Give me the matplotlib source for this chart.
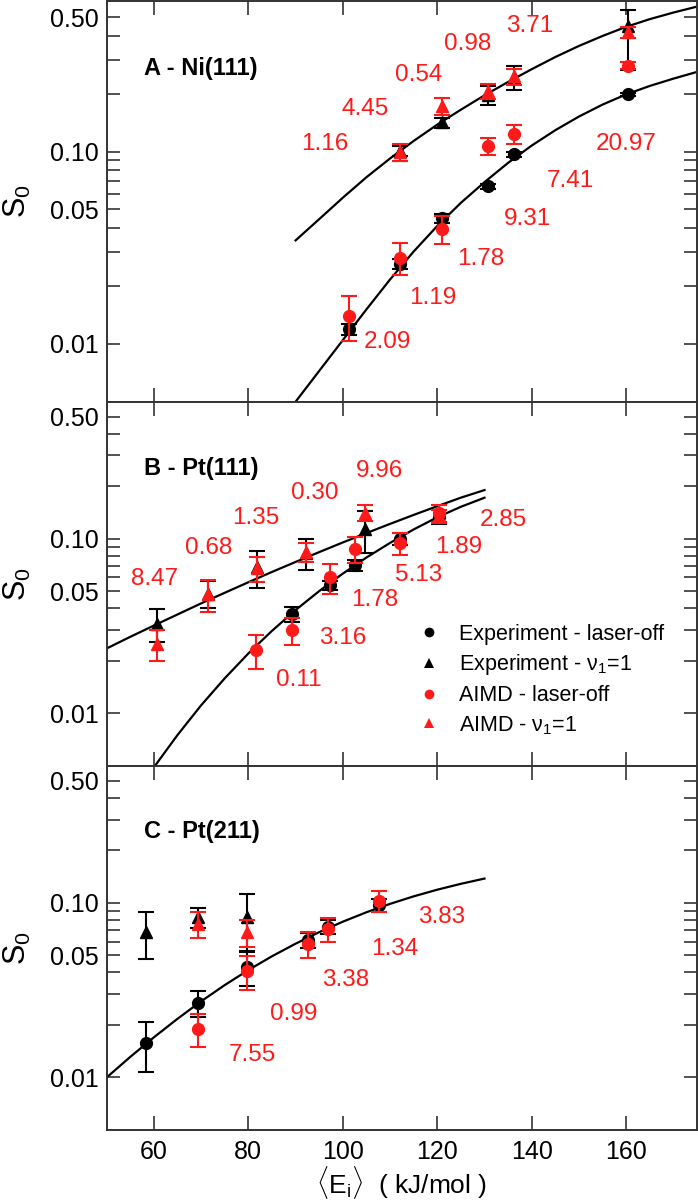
import matplotlib
matplotlib.use('Agg')
import matplotlib.pyplot as plt
from matplotlib.lines import Line2D
from matplotlib.ticker import FixedLocator, FixedFormatter, NullFormatter

plt.rcParams['font.family'] = ['Liberation Sans', 'DejaVu Sans']
plt.rcParams['mathtext.fontset'] = 'custom'
plt.rcParams['mathtext.rm'] = 'Liberation Sans'
plt.rcParams['mathtext.it'] = 'Liberation Sans:italic'
plt.rcParams['mathtext.bf'] = 'Liberation Sans:bold'

# ---------------- Panel A : Ni(111) ----------------
a_exp_off_x = [101.3, 112.1, 121.1, 130.7, 136.3, 160.3]
a_exp_off_y = [0.0119, 0.026, 0.045, 0.066, 0.097, 0.198]
a_exp_off_e = [0.0008, 0.0015, 0.0025, 0.002, 0.003, 0.004]

a_exp_v1_x = [112.1, 121.1, 130.7, 136.3, 160.3]
a_exp_v1_y = [0.101, 0.142, 0.196, 0.245, 0.45]
a_exp_v1_lo = [0.0065, 0.009, 0.022, 0.035, 0.186]
a_exp_v1_hi = [0.0055, 0.008, 0.024, 0.035, 0.096]

a_aimd_off_x = [101.3, 112.1, 121.1, 130.7, 136.3, 160.3]
a_aimd_off_y = [0.014, 0.028, 0.0396, 0.107, 0.124, 0.28]
a_aimd_off_e = [0.0037, 0.0053, 0.0064, 0.011, 0.014, 0.012]

a_aimd_v1_x = [112.1, 121.1, 130.7, 136.3, 160.3]
a_aimd_v1_y = [0.099, 0.172, 0.206, 0.246, 0.418]
a_aimd_v1_e = [0.010, 0.017, 0.018, 0.023, 0.027]

a_fit_up_x = [90, 95, 100, 105, 110, 115, 120, 125, 130, 135, 140, 145, 150, 155, 160, 165, 170, 175]
a_fit_up_y = [0.0345, 0.0445, 0.0575, 0.0735, 0.092, 0.1135, 0.138, 0.165, 0.196, 0.230, 0.268,
              0.310, 0.354, 0.399, 0.445, 0.488, 0.528, 0.567]
a_fit_lo_x = [90, 95, 100, 105, 110, 115, 120, 125, 130, 135, 140, 145, 150, 155, 160, 165, 170, 175]
a_fit_lo_y = [0.0050, 0.00723, 0.01045, 0.0151, 0.0216, 0.0302, 0.0410, 0.0541, 0.0693, 0.0873,
              0.1074, 0.1291, 0.152, 0.1754, 0.1982, 0.2193, 0.2393, 0.2594]

a_lab_txt = ['1.16', '4.45', '0.54', '0.98', '3.71', '20.97', '7.41', '9.31', '1.78', '1.19', '2.09']
a_lab_x = [96.2, 104.8, 116.1, 126.5, 139.6, 159.9, 148.1, 139.2, 129.3, 119.0, 109.5]
a_lab_y = [0.110, 0.167, 0.249, 0.363, 0.452, 0.110, 0.0706, 0.0446, 0.0276, 0.0174, 0.0102]

# ---------------- Panel B : Pt(111) ----------------
b_exp_off_x = [89.3, 97.3, 102.5, 112.1, 120.4]
b_exp_off_y = [0.0369, 0.054, 0.0707, 0.100, 0.134]
b_exp_off_e = [0.0037, 0.003, 0.005, 0.008, 0.012]

b_exp_v1_x = [60.7, 71.5, 81.8, 92.2, 104.7]
b_exp_v1_y = [0.0326, 0.0485, 0.069, 0.0825, 0.114]
b_exp_v1_e = [0.007, 0.0085, 0.0165, 0.0165, 0.031]

b_aimd_off_x = [81.6, 89.3, 97.3, 102.5, 112.1, 120.4]
b_aimd_off_y = [0.0229, 0.0299, 0.060, 0.087, 0.094, 0.140]
b_aimd_off_e = [0.005, 0.0054, 0.0115, 0.0147, 0.0133, 0.0155]

b_aimd_v1_x = [60.7, 71.5, 81.8, 92.2, 104.7, 120.4]
b_aimd_v1_y = [0.025, 0.0481, 0.0676, 0.0842, 0.141, 0.135]
b_aimd_v1_e = [0.0051, 0.0102, 0.0109, 0.0105, 0.0145, 0.012]

b_fit_up_x = [50, 55, 60, 65, 70, 75, 80, 85, 90, 95, 100, 105, 110, 115, 120, 125, 130]
b_fit_up_y = [0.0235, 0.0274, 0.0318, 0.0368, 0.0426, 0.0490, 0.0563, 0.0645, 0.0736, 0.0838,
              0.0952, 0.1077, 0.1216, 0.1369, 0.1536, 0.1719, 0.1900]
b_fit_lo_x = [60, 65, 70, 75, 80, 85, 90, 95, 100, 105, 110, 115, 120, 125, 130]
b_fit_lo_y = [0.0049, 0.0075, 0.0111, 0.01585, 0.0220, 0.02965, 0.0390, 0.0501, 0.0631, 0.0780,
              0.0946, 0.1130, 0.1327, 0.1524, 0.1718]

b_lab_txt = ['8.47', '0.68', '1.35', '0.30', '9.96', '2.85', '1.89', '5.13', '1.78', '3.16', '0.11']
b_lab_x = [60.2, 71.5, 81.6, 94.1, 107.7, 134.0, 124.6, 116.0, 106.7, 100.0, 90.6]
b_lab_y = [0.0584, 0.088, 0.131, 0.182, 0.243, 0.128, 0.090, 0.062, 0.0444, 0.0268, 0.0154]

# ---------------- Panel C : Pt(211) ----------------
c_exp_off_x = [58.3, 69.4, 79.8, 92.6, 96.8, 107.7]
c_exp_off_y = [0.0158, 0.0268, 0.0429, 0.061, 0.073, 0.097]
c_exp_off_e = [0.005, 0.0045, 0.0095, 0.006, 0.007, 0.008]

c_exp_v1_x = [58.3, 69.4, 79.8]
c_exp_v1_y = [0.068, 0.083, 0.083]
c_exp_v1_e = [0.0205, 0.011, 0.030]

c_aimd_off_x = [69.4, 79.8, 92.6, 96.8, 107.7]
c_aimd_off_y = [0.019, 0.0405, 0.0584, 0.0707, 0.103]
c_aimd_off_e = [0.004, 0.009, 0.0098, 0.011, 0.014]

c_aimd_v1_x = [69.4, 79.8]
c_aimd_v1_y = [0.076, 0.068]
c_aimd_v1_e = [0.0128, 0.012]

c_fit_x = [50, 55, 60, 65, 70, 75, 80, 85, 90, 95, 100, 105, 110, 115, 120, 125, 130]
c_fit_y = [0.0100, 0.01312, 0.01698, 0.02168, 0.02729, 0.03381, 0.04121, 0.04943, 0.05834,
           0.06792, 0.07798, 0.08831, 0.09863, 0.1089, 0.1189, 0.1285, 0.1377]

c_lab_txt = ['3.83', '1.34', '3.38', '0.99', '7.55']
c_lab_x = [121.0, 110.9, 100.6, 89.5, 80.9]
c_lab_y = [0.0825, 0.0547, 0.0363, 0.0231, 0.0135]

panel_titles = ['A - Ni(111)', 'B - Pt(111)', 'C - Pt(211)']
title_x = [57.9, 57.9, 57.9]
title_y = [0.27, 0.254, 0.256]

legend_labels = ['Experiment - laser-off', r'Experiment - ν$_{\mathrm{1}}$=1',
                 'AIMD - laser-off', r'AIMD - ν$_{\mathrm{1}}$=1']

x_ticks = [60, 80, 100, 120, 140, 160]
y_major = [0.01, 0.05, 0.10, 0.50]
y_major_lab = ['0.01', '0.05', '0.10', '0.50']
y_minor = [0.02, 0.03, 0.04, 0.06, 0.07, 0.08, 0.09, 0.2, 0.3, 0.4]

RED = '#ff1a1a'
BLK = '#000000'

fig = plt.figure(figsize=(6.98, 12.03), dpi=100)
L, W = 106.7 / 698, 590.3 / 698
axA = fig.add_axes([L, 1 - 401.7 / 1203, W, 401.2 / 1203])
axB = fig.add_axes([L, 1 - 765.7 / 1203, W, 364.0 / 1203])
axC = fig.add_axes([L, 1 - 1130.0 / 1203, W, 364.3 / 1203])


def draw_series(ax, x, y, err, marker, color, ms):
    ax.errorbar(x, y, yerr=err, fmt=marker, color=color, ecolor=color, ms=ms,
                mec=color, capsize=5.5, elinewidth=1.5, capthick=1.5,
                zorder=4 if color == RED else 3)


def style_axis(ax, show_xlabels):
    ax.set_yscale('log')
    ax.set_xlim(50, 175)
    ax.set_ylim(0.005, 0.61)
    ax.xaxis.set_major_locator(FixedLocator(x_ticks))
    ax.yaxis.set_major_locator(FixedLocator(y_major))
    ax.yaxis.set_major_formatter(FixedFormatter(y_major_lab))
    ax.yaxis.set_minor_locator(FixedLocator(y_minor))
    ax.yaxis.set_minor_formatter(NullFormatter())
    ax.tick_params(axis='both', which='both', direction='in', top=True, right=True,
                   labelsize=18, width=1.2, color='#333333')
    ax.tick_params(axis='x', which='major', length=10, pad=7)
    ax.tick_params(axis='y', which='both', length=9.5, pad=6)
    if not show_xlabels:
        ax.tick_params(axis='x', labelbottom=False)
    for s in ax.spines.values():
        s.set_linewidth(1.4)
        s.set_color('#333333')
    ax.set_ylabel(r'S$_{\mathrm{0}}$', fontsize=22)
    ax.yaxis.set_label_coords(-0.125, 0.5)


# Panel A
axA.plot(a_fit_up_x, a_fit_up_y, color=BLK, lw=1.6, zorder=2)
axA.plot(a_fit_lo_x, a_fit_lo_y, color=BLK, lw=1.6, zorder=2)
draw_series(axA, a_exp_off_x, a_exp_off_y, a_exp_off_e, 'o', BLK, 8.5)
draw_series(axA, a_exp_v1_x, a_exp_v1_y, [a_exp_v1_lo, a_exp_v1_hi], '^', BLK, 9)
draw_series(axA, a_aimd_off_x, a_aimd_off_y, a_aimd_off_e, 'o', RED, 8.5)
draw_series(axA, a_aimd_v1_x, a_aimd_v1_y, a_aimd_v1_e, '^', RED, 9)
for t, x, y in zip(a_lab_txt, a_lab_x, a_lab_y):
    axA.text(x, y, t, color=RED, fontsize=17.5, ha='center', va='center')

# Panel B
axB.plot(b_fit_up_x, b_fit_up_y, color=BLK, lw=1.6, zorder=2)
axB.plot(b_fit_lo_x, b_fit_lo_y, color=BLK, lw=1.6, zorder=2)
draw_series(axB, b_exp_off_x, b_exp_off_y, b_exp_off_e, 'o', BLK, 8.5)
draw_series(axB, b_exp_v1_x, b_exp_v1_y, b_exp_v1_e, '^', BLK, 9)
draw_series(axB, b_aimd_off_x, b_aimd_off_y, b_aimd_off_e, 'o', RED, 8.5)
draw_series(axB, b_aimd_v1_x, b_aimd_v1_y, b_aimd_v1_e, '^', RED, 9)
for t, x, y in zip(b_lab_txt, b_lab_x, b_lab_y):
    axB.text(x, y, t, color=RED, fontsize=17.5, ha='center', va='center')

handles = [Line2D([], [], marker='o', color=BLK, ls='none', ms=7, mew=0),
           Line2D([], [], marker='^', color=BLK, ls='none', ms=6.5, mew=0),
           Line2D([], [], marker='o', color=RED, ls='none', ms=7, mew=0),
           Line2D([], [], marker='^', color=RED, ls='none', ms=6.5, mew=0)]
axB.legend(handles, legend_labels, loc='upper left', bbox_to_anchor=(0.528, 0.39),
           frameon=False, fontsize=15.5, handlelength=1.0, handletextpad=0.9,
           labelspacing=0.36, borderpad=0, borderaxespad=0)

# Panel C
axC.plot(c_fit_x, c_fit_y, color=BLK, lw=1.6, zorder=2)
draw_series(axC, c_exp_off_x, c_exp_off_y, c_exp_off_e, 'o', BLK, 8.5)
draw_series(axC, c_exp_v1_x, c_exp_v1_y, c_exp_v1_e, '^', BLK, 9)
draw_series(axC, c_aimd_off_x, c_aimd_off_y, c_aimd_off_e, 'o', RED, 8.5)
draw_series(axC, c_aimd_v1_x, c_aimd_v1_y, c_aimd_v1_e, '^', RED, 9)
for t, x, y in zip(c_lab_txt, c_lab_x, c_lab_y):
    axC.text(x, y, t, color=RED, fontsize=17.5, ha='center', va='center')

for ax, title, tx, ty in zip([axA, axB, axC], panel_titles, title_x, title_y):
    ax.text(tx, ty, title, fontsize=17, fontweight='bold', ha='left', va='center')

style_axis(axA, False)
style_axis(axB, False)
style_axis(axC, True)
axC.set_xlabel(r'$\langle$E$_{\mathrm{i}}\rangle$  ( kJ/mol )', fontsize=19, labelpad=0)

fig.savefig('out.png', dpi=100)
